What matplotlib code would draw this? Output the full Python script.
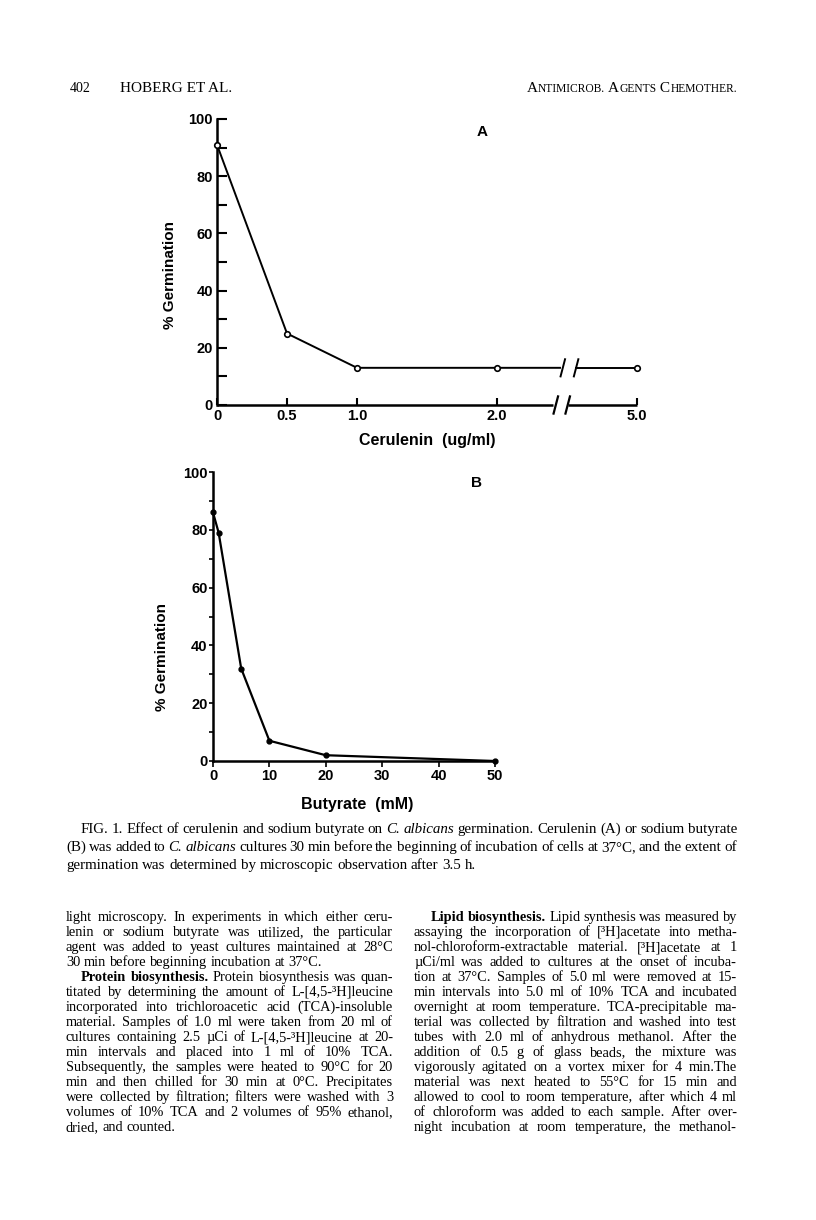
import numpy as np
import matplotlib
matplotlib.use("Agg")
import matplotlib.pyplot as plt
from matplotlib.ticker import FixedLocator

# ---------------- data ----------------
cerulenin = [0.0, 0.5, 1.0, 2.0, 5.0]          # ug/ml
germ_cerulenin = [91, 25, 13, 13, 13]          # % germination
cer_ticks = [0, 0.5, 1.0, 2.0, 5.0]
cer_tick_labels = ["0", "0.5", "1.0", "2.0", "5.0"]

butyrate = [0, 1, 5, 10, 20, 50]               # mM
germ_butyrate = [86, 79, 32, 7, 2, 0]          # % germination
but_ticks = [0, 10, 20, 30, 40, 50]
but_tick_labels = ["0", "10", "20", "30", "40", "50"]

germ_ticks = [0, 20, 40, 60, 80, 100]
germ_minor = [10, 30, 50, 70, 90]

header_left_num = "402"
header_left = "HOBERG ET AL."
header_right = [("A", 1), ("NTIMICROB.", 0), (" A", 1), ("GENTS", 0), (" C", 1), ("HEMOTHER.", 0)]

caption_lines = [
    "FIG. 1. Effect of cerulenin and sodium butyrate on _C. _albicans germination. Cerulenin (A) or sodium butyrate",
    "(B) was added to _C. _albicans cultures 30 min before the beginning of incubation of cells at 37°C, and the extent of",
    "germination was determined by microscopic observation after 3.5 h.",
]

left_col = [
    "light microscopy. In experiments in which either ceru-",
    "lenin or sodium butyrate was utilized, the particular",
    "agent was added to yeast cultures maintained at 28°C",
    "30 min before beginning incubation at 37°C.",
    "§Protein §biosynthesis. Protein biosynthesis was quan-",
    "titated by determining the amount of L-[4,5-³H]leucine",
    "incorporated into trichloroacetic acid (TCA)-insoluble",
    "material. Samples of 1.0 ml were taken from 20 ml of",
    "cultures containing 2.5 µCi of L-[4,5-³H]leucine at 20-",
    "min intervals and placed into 1 ml of 10% TCA.",
    "Subsequently, the samples were heated to 90°C for 20",
    "min and then chilled for 30 min at 0°C. Precipitates",
    "were collected by filtration; filters were washed with 3",
    "volumes of 10% TCA and 2 volumes of 95% ethanol,",
    "dried, and counted.",
]
left_last = {3, 14}
left_indent = {4}

right_col = [
    "§Lipid §biosynthesis. Lipid synthesis was measured by",
    "assaying the incorporation of [³H]acetate into metha-",
    "nol-chloroform-extractable material. [³H]acetate at 1",
    "µCi/ml was added to cultures at the onset of incuba-",
    "tion at 37°C. Samples of 5.0 ml were removed at 15-",
    "min intervals into 5.0 ml of 10% TCA and incubated",
    "overnight at room temperature. TCA-precipitable ma-",
    "terial was collected by filtration and washed into test",
    "tubes with 2.0 ml of anhydrous methanol. After the",
    "addition of 0.5 g of glass beads, the mixture was",
    "vigorously agitated on a vortex mixer for 4 min.The",
    "material was next heated to 55°C for 15 min and",
    "allowed to cool to room temperature, after which 4 ml",
    "of chloroform was added to each sample. After over-",
    "night incubation at room temperature, the methanol-",
]
right_last = set()
right_indent = {0}

# ---------------- figure ----------------
W, H = 816, 1220
fig = plt.figure(figsize=(W / 100, H / 100), dpi=100)
fig.patch.set_facecolor("white")


def fx(px):
    return px / W


def fy(py):
    return 1 - py / H


CHART_FONT = dict(family=["Liberation Sans Narrow", "Liberation Sans", "DejaVu Sans"],
                  weight="bold")
SERIF = "Liberation Serif"
AXLW = 1.8

# ---------- panel A (broken x axis) ----------
BREAK_VAL = 2.0
COMPRESS = 3.0  # values above the break are compressed by this factor


def pos_a(v):
    v = np.asarray(v, dtype=float)
    return np.where(v <= BREAK_VAL, v, BREAK_VAL + (v - BREAK_VAL) / COMPRESS)


axA = fig.add_axes([fx(217), fy(405), fx(637) - fx(217), fy(119) - fy(405)])
axA.set_xlim(0, float(pos_a(5.0)))
axA.set_ylim(0, 100)
for s in ["top", "right", "bottom"]:
    axA.spines[s].set_visible(False)
axA.spines["left"].set_linewidth(AXLW)
axA.yaxis.set_major_locator(FixedLocator(germ_ticks))
axA.yaxis.set_minor_locator(FixedLocator(germ_minor))
axA.set_yticklabels([str(t) for t in germ_ticks], fontsize=10.5, **CHART_FONT)
axA.tick_params(axis="y", which="both", direction="in", length=7, width=1.5, pad=3)
axA.set_xticks(pos_a(cer_ticks))
axA.set_xticklabels(cer_tick_labels, fontsize=10.5, **CHART_FONT)
axA.tick_params(axis="x", direction="in", length=5, width=1.5, pad=3)

# broken bottom axis
ax_gap = (2.40, 2.51)
xmaxA = float(pos_a(5.0))
axA.plot([0, ax_gap[0]], [0, 0], color="black", lw=AXLW, clip_on=False, solid_capstyle="butt")
axA.plot([ax_gap[1], xmaxA], [0, 0], color="black", lw=AXLW, clip_on=False, solid_capstyle="butt")
sdx, sdy = 0.016, 3.0
for gx in (ax_gap[0] + 0.02, ax_gap[1] - 0.005):
    axA.plot([gx - sdx, gx + sdx], [-sdy, sdy], color="black", lw=1.6, clip_on=False)

# data line with break
px = pos_a(cerulenin)
py = np.asarray(germ_cerulenin, dtype=float)
line_gap = (2.45, 2.565)
seg1_x = np.append(px[px <= BREAK_VAL], line_gap[0])
seg1_y = np.append(py[px <= BREAK_VAL], np.interp(line_gap[0], px, py))
seg2_x = np.insert(px[px > BREAK_VAL], 0, line_gap[1])
seg2_y = np.insert(py[px > BREAK_VAL], 0, np.interp(line_gap[1], px, py))
axA.plot(seg1_x, seg1_y, color="black", lw=1.4, clip_on=False)
axA.plot(seg2_x, seg2_y, color="black", lw=1.4, clip_on=False)
yb = float(np.interp(line_gap[0], px, py))
for gx in (line_gap[0] + 0.02, line_gap[1] + 0.0):
    axA.plot([gx - sdx, gx + sdx], [yb - sdy, yb + sdy], color="black", lw=1.4, clip_on=False)
axA.plot(px, py, linestyle="none", marker="o", ms=4, mfc="white", mec="black", mew=1.2,
         clip_on=False, zorder=5)
fig.text(fx(482), fy(132), "A", fontsize=11, fontweight="bold",
         family=["Liberation Sans", "DejaVu Sans"], ha="center", va="center")
fig.text(fx(170), fy(275), "% Germination", rotation=90, fontsize=11, ha="center", va="center",
         **CHART_FONT)
fig.text(fx(427), fy(440), "Cerulenin  (ug/ml)", fontsize=11.5, ha="center", va="center",
         **CHART_FONT)

# ---------- panel B ----------
axB = fig.add_axes([fx(213), fy(761), fx(495) - fx(213), fy(472) - fy(761)])
axB.set_xlim(0, 50)
axB.set_ylim(0, 100)
for s in ["top", "right"]:
    axB.spines[s].set_visible(False)
for s in ["left", "bottom"]:
    axB.spines[s].set_linewidth(AXLW)
axB.yaxis.set_major_locator(FixedLocator(germ_ticks))
axB.yaxis.set_minor_locator(FixedLocator(germ_minor))
axB.set_yticklabels([str(t) for t in germ_ticks], fontsize=10.5, **CHART_FONT)
axB.tick_params(axis="y", which="both", direction="out", length=3, width=1.2, pad=1)
axB.set_xticks(but_ticks)
axB.set_xticklabels(but_tick_labels, fontsize=10.5, **CHART_FONT)
axB.tick_params(axis="x", direction="out", length=4, width=1.2, pad=1.5)
axB.plot(butyrate, germ_butyrate, color="black", lw=1.6, marker="o", ms=3.5,
         mfc="black", mec="black", clip_on=False, zorder=5)
fig.text(fx(476), fy(483), "B", fontsize=11, fontweight="bold",
         family=["Liberation Sans", "DejaVu Sans"], ha="center", va="center")
fig.text(fx(162), fy(657), "% Germination", rotation=90, fontsize=11, ha="center", va="center",
         **CHART_FONT)
fig.text(fx(357), fy(805), "Butyrate  (mM)", fontsize=11.5, ha="center", va="center",
         **CHART_FONT)

# ---------------- page text ----------------
renderer = fig.canvas.get_renderer()
PX_PER_PT = 100 / 72
SPACE_EM = 0.25
MIN_GAP_EM = 0.2


def word_style(tok):
    style = {}
    if tok.startswith("§"):
        tok = tok[1:]
        style["fontweight"] = "bold"
    if tok.startswith("_"):
        tok = tok[1:]
        style["fontstyle"] = "italic"
    return tok, style


def text_width(s, size, family, **kw):
    t = fig.text(0, 0, s, fontsize=size, family=family, **kw)
    w = t.get_window_extent(renderer).width
    t.remove()
    return w


def fit_size(lines, x0s, x1, justified, cap):
    """largest font size (<= cap) for which every justified line keeps a minimum gap"""
    best = cap
    for ln, x0, j in zip(lines, x0s, justified):
        if not j:
            continue
        toks = [word_style(w) for w in ln.split(" ")]
        w10 = sum(text_width(t, 10, SERIF, **st) for t, st in toks)
        n = len(toks) - 1
        s = (x1 - x0) / (w10 / 10 + n * MIN_GAP_EM * PX_PER_PT)
        best = min(best, s)
    return best


def draw_line(line, x0, x1, baseline, size, justify, family=SERIF):
    toks = [word_style(w) for w in line.split(" ")]
    widths = [text_width(t, size, family, **st) for t, st in toks]
    space = size * PX_PER_PT * SPACE_EM
    n = len(toks)
    if justify and n > 1:
        gap = (x1 - x0 - sum(widths)) / (n - 1)
    else:
        gap = space
    x = x0
    for (t, st), w in zip(toks, widths):
        fig.text(fx(x), fy(baseline), t, fontsize=size, family=family, ha="left",
                 va="baseline", **st)
        x += w + gap


# header
HB = 92
fig.text(fx(70), fy(HB), header_left_num, fontsize=10, family=SERIF, ha="left", va="baseline")
fig.text(fx(120), fy(HB), header_left, fontsize=11, family=SERIF, ha="left", va="baseline")
runs = [(s, 11 if big else 8.3) for s, big in header_right]
total = sum(text_width(s, sz, SERIF) for s, sz in runs)
x = 737 - total
for s, sz in runs:
    fig.text(fx(x), fy(HB), s, fontsize=sz, family=SERIF, ha="left", va="baseline")
    x += text_width(s, sz, SERIF)

# caption
cap_base = [833, 851, 869]
cap_x0 = [81, 66, 66]
cap_just = [True, True, False]
CAP = fit_size(caption_lines, cap_x0, 737, cap_just, 11.0)
for i, ln in enumerate(caption_lines):
    draw_line(ln, cap_x0[i], 737, cap_base[i], CAP, justify=cap_just[i])

# body columns
lx0 = [66 + (15 if i in left_indent else 0) for i in range(len(left_col))]
rx0 = [414 + (17 if i in right_indent else 0) for i in range(len(right_col))]
lj = [i not in left_last for i in range(len(left_col))]
rj = [i not in right_last for i in range(len(right_col))]
BODY = min(fit_size(left_col, lx0, 393, lj, 11.0), fit_size(right_col, rx0, 737, rj, 11.0))
for i, ln in enumerate(left_col):
    draw_line(ln, lx0[i], 393, 921 + 15 * i, BODY, justify=lj[i])
for i, ln in enumerate(right_col):
    draw_line(ln, rx0[i], 737, 921 + 15 * i, BODY, justify=rj[i])

fig.savefig("out.png", dpi=100, facecolor="white")
